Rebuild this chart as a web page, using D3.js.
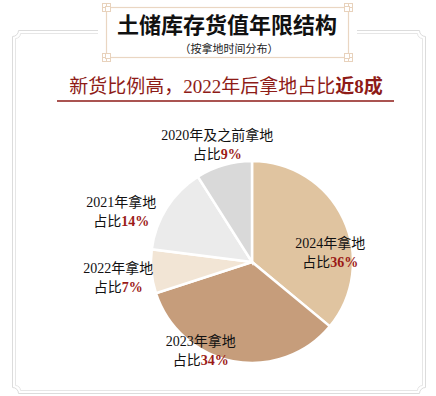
<!DOCTYPE html>
<html>
<head>
<meta charset="utf-8">
<script src="https://cdn.jsdelivr.net/npm/d3@7"></script>
<style>
  body { margin: 0; background: #fff; }
  svg { display: block; }
</style>
</head>
<body>
<div id="chart"></div>
<script>
// 数据
var categories = ["2024年拿地", "2023年拿地", "2022年拿地", "2021年拿地", "2020年及之前拿地"];
var shares = [36, 34, 7, 14, 9];
var colors = ["#e0c4a0", "#c69d7b", "#f2e5d5", "#ebebeb", "#d9d9d9"];
var pctLabels = ["36%", "34%", "7%", "14%", "9%"];

// 标签相对扇区中心的偏移
var labelOffset = [[24, 17], [-40, 30], [-74, 10], [-80, -18], [-18, -59]];

var W = 436, H = 396;
var svg = d3.select("#chart").append("svg")
    .attr("width", W)
    .attr("height", H);

// 外框 (凹角双线)
function framePath(x0, y0, x1, y1, c) {
  return "M" + x0 + "," + (y0 + c) +
    " A" + c + "," + c + " 0 0 0 " + (x0 + c) + "," + y0 +
    " H" + (x1 - c) +
    " A" + c + "," + c + " 0 0 0 " + x1 + "," + (y0 + c) +
    " V" + (y1 - c) +
    " A" + c + "," + c + " 0 0 0 " + (x1 - c) + "," + y1 +
    " H" + (x0 + c) +
    " A" + c + "," + c + " 0 0 0 " + x0 + "," + (y1 - c) + " Z";
}
svg.append("path")
    .attr("d", framePath(12.5, 30.5, 425.5, 393.5, 6))
    .attr("fill", "none")
    .attr("stroke", "#dcdcdc")
    .attr("stroke-width", 1);
svg.append("path")
    .attr("d", framePath(15.5, 33.5, 422.5, 390.5, 5))
    .attr("fill", "none")
    .attr("stroke", "#e6e6e6")
    .attr("stroke-width", 1);

// 标题框
var bx0 = 102, by0 = 3, bx1 = 353, by1 = 62;
svg.append("rect")
    .attr("x", bx0 - 4).attr("y", by0 - 2)
    .attr("width", bx1 - bx0 + 8).attr("height", by1 - by0 + 4)
    .attr("fill", "#fff");
svg.append("rect")
    .attr("x", bx0 + 4.5).attr("y", by0 + 4.5)
    .attr("width", bx1 - bx0 - 9).attr("height", by1 - by0 - 9)
    .attr("fill", "#fff")
    .attr("stroke", "#ead6c2")
    .attr("stroke-width", 1.2);
// 角花
[[bx0, by0, 1, 1], [bx1, by0, -1, 1], [bx0, by1, 1, -1], [bx1, by1, -1, -1]].forEach(function (c) {
  var g = svg.append("g")
      .attr("transform", "translate(" + c[0] + "," + c[1] + ") scale(" + c[2] + "," + c[3] + ")")
      .attr("fill", "none")
      .attr("stroke", "#e8d2bc")
      .attr("stroke-width", 1);
  g.append("rect").attr("x", 0.5).attr("y", 0.5).attr("width", 8).attr("height", 8).attr("fill", "#fff");
  g.append("rect").attr("x", 3.5).attr("y", 3.5).attr("width", 5).attr("height", 5);
  g.append("path").attr("d", "M0.5,4.5 H3.5 M4.5,0.5 V3.5");
});

svg.append("text")
    .attr("x", 227).attr("y", 33)
    .attr("text-anchor", "middle")
    .style("font-family", "'Noto Sans CJK SC'")
    .style("font-weight", "bold")
    .style("font-size", "22px")
    .attr("fill", "#111")
    .text("土储库存货值年限结构");
svg.append("text")
    .attr("x", 229).attr("y", 53)
    .attr("text-anchor", "middle")
    .style("font-family", "'Noto Sans CJK SC'")
    .style("font-size", "11px")
    .attr("fill", "#222")
    .text("（按拿地时间分布）");

// 主结论
var head = svg.append("text")
    .attr("x", 226).attr("y", 93)
    .attr("text-anchor", "middle")
    .style("font-family", "'Liberation Serif', 'Noto Sans CJK SC'")
    .style("font-size", "19px")
    .attr("fill", "#8e1b17");
head.append("tspan").text("新货比例高，2022年后拿地占比");
head.append("tspan").style("font-weight", "bold").text("近8成");
svg.append("line")
    .attr("x1", 57).attr("x2", 394)
    .attr("y1", 101).attr("y2", 101)
    .attr("stroke", "#8e1b17")
    .attr("stroke-width", 1.5);

// 饼图
var cx = 252, cy = 262, r = 101;
var data = categories.map(function (c, i) { return { name: c, value: shares[i], i: i }; });
var pie = d3.pie().sort(null).value(function (d) { return d.value; });
var arc = d3.arc().innerRadius(0).outerRadius(r);
var labelArc = d3.arc().innerRadius(60).outerRadius(60);

var g = svg.append("g").attr("transform", "translate(" + cx + "," + cy + ")");
var arcs = pie(data);
g.selectAll("path")
    .data(arcs)
    .enter()
    .append("path")
    .attr("d", arc)
    .attr("fill", function (d) { return colors[d.data.i]; })
    .attr("stroke", "#fff")
    .attr("stroke-width", 2.5);

var labels = g.selectAll("text.lbl")
    .data(arcs)
    .enter()
    .append("text")
    .attr("class", "lbl")
    .attr("text-anchor", "middle")
    .style("font-family", "'Liberation Serif', 'Noto Sans CJK SC'")
    .style("font-size", "14px")
    .attr("fill", "#111")
    .attr("transform", function (d) {
      var p = labelArc.centroid(d);
      var o = labelOffset[d.data.i];
      return "translate(" + (p[0] + o[0]) + "," + (p[1] + o[1]) + ")";
    });
labels.append("tspan")
    .attr("x", 0).attr("y", -5)
    .text(function (d) { return d.data.name; });
labels.append("tspan")
    .attr("x", 0).attr("dy", 19);
labels.each(function (d) {
  var t = d3.select(this).select("tspan:last-child");
  t.append("tspan").text("占比");
  t.append("tspan")
      .style("font-weight", "bold")
      .attr("fill", "#9b1a17")
      .text(pctLabels[d.data.i]);
});
</script>
</body>
</html>
